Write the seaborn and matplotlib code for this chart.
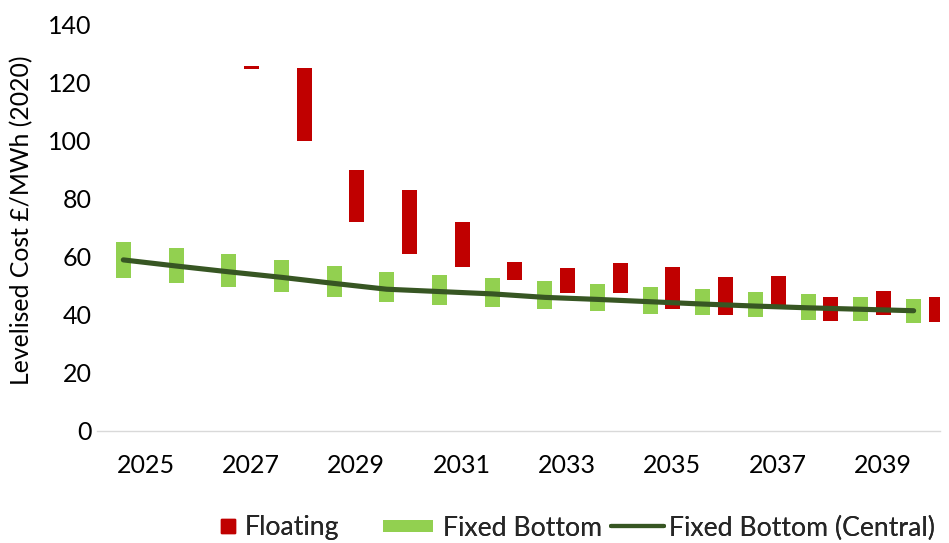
import numpy as np
import matplotlib
matplotlib.use("Agg")
import matplotlib.pyplot as plt
from matplotlib.lines import Line2D
import seaborn as sns

# Levelised cost ranges (£/MWh, 2020 prices)
years = list(range(2025, 2041))
fixed_low = [52.5, 50.8, 49.4, 47.6, 45.9, 44.2, 43.4, 42.6, 41.9, 41.1, 40.3, 39.7, 39.0, 38.2, 37.7, 37.0]
fixed_high = [64.9, 62.9, 60.7, 58.8, 56.7, 54.5, 53.5, 52.5, 51.4, 50.5, 49.5, 48.7, 47.9, 47.1, 46.1, 45.2]
fixed_central = [58.8, 56.7, 54.7, 52.8, 50.7, 48.7, 47.9, 47.1, 45.9, 45.2, 44.4, 43.6, 42.9, 42.3, 41.8, 41.3]
floating_low = [np.nan, np.nan, 124.6, 99.8, 71.9, 60.8, 56.2, 51.9, 47.5, 47.5, 41.9, 39.8, 42.5, 37.9, 39.7, 37.4]
floating_high = [np.nan, np.nan, 125.6, 124.7, 89.7, 82.8, 71.9, 58.0, 55.9, 57.8, 56.2, 52.8, 53.3, 45.9, 48.0, 45.9]
tick_years = [2025, 2027, 2029, 2031, 2033, 2035, 2037, 2039]

RED = "#C00000"
GREEN = "#92D050"
DARK_GREEN = "#375623"
FONT = "Lato"
TICK_FS = 18
LABEL_FS = 17.8
LEGEND_FS = 19.2

sns.set_theme(style="white")
plt.rcParams["font.family"] = [FONT, "DejaVu Sans"]

fig = plt.figure(figsize=(9.49, 5.43), dpi=100)
ax = fig.add_axes([0.1022, 0.2068, 0.8883, 0.749])

idx = np.arange(len(years))
bar_w = 0.285
red_shift = 0.43

# Fixed-bottom ranges
lo = np.array(fixed_low)
hi = np.array(fixed_high)
ax.bar(idx, hi - lo, bottom=lo, width=bar_w, color=GREEN, edgecolor="none", zorder=2)

# Floating ranges (no values for the first two years)
flo = np.array(floating_low)
fhi = np.array(floating_high)
ok = ~np.isnan(flo)
ax.bar(idx[ok] + red_shift, fhi[ok] - flo[ok], bottom=flo[ok], width=bar_w,
       color=RED, edgecolor="none", zorder=2)

# Central fixed-bottom trajectory
sns.lineplot(x=idx, y=fixed_central, ax=ax, color=DARK_GREEN, linewidth=3.7,
             solid_capstyle="round", zorder=3)

ax.set_xlim(-0.5, 15.5)
ax.set_ylim(0, 140)
ax.set_yticks(range(0, 141, 20))
ax.set_yticklabels([str(v) for v in range(0, 141, 20)], fontsize=TICK_FS, color="black")
ax.set_xticks([years.index(y) + 0.42 for y in tick_years])
ax.set_xticklabels([str(y) for y in tick_years], fontsize=TICK_FS, color="black")
ax.tick_params(axis="y", length=0, pad=4)
ax.tick_params(axis="x", length=0, pad=17)

for side in ["top", "right", "left"]:
    ax.spines[side].set_visible(False)
ax.spines["bottom"].set_color("#D9D9D9")
ax.spines["bottom"].set_linewidth(1.0)
ax.grid(False)

ax.set_ylabel("Levelised Cost £/MWh (2020)", fontsize=LABEL_FS, color="black")
ax.yaxis.set_label_coords(-0.0759, 0.518)

# Legend entries placed individually along the bottom
entries = [
    (Line2D([], [], marker="s", markersize=9.5, color=RED, linestyle="none"),
     "Floating", 221, 0.5, 0.4),
    (Line2D([], [], color=GREEN, linewidth=8.6, solid_capstyle="butt"),
     "Fixed Bottom", 383, 1.87, 0.37),
    (Line2D([], [], color=DARK_GREEN, linewidth=3.0, solid_capstyle="round"),
     "Fixed Bottom (Central)", 611, 2.0, 0.18),
]
for handle, label, x0, hl, tp in entries:
    leg = fig.legend([handle], [label], loc="center left",
                     bbox_to_anchor=(x0 / 949, 15 / 543), frameon=False,
                     borderpad=0, borderaxespad=0, handlelength=hl,
                     handletextpad=tp, fontsize=LEGEND_FS)
    fig.add_artist(leg)

fig.savefig("out.png", dpi=100)
